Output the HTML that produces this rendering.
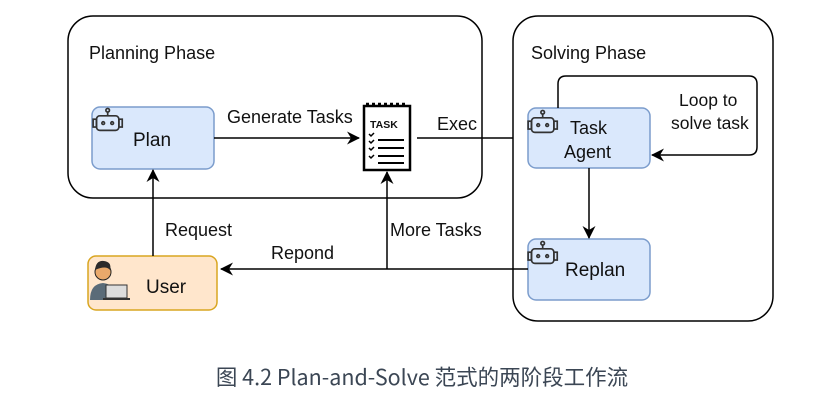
<!DOCTYPE html>
<html><head><meta charset="utf-8"><style>
body{margin:0;background:#fff;width:830px;height:403px;overflow:hidden}
text{font-family:"Liberation Sans","DejaVu Sans",sans-serif;fill:#111}
</style></head><body>
<svg width="830" height="403" viewBox="0 0 830 403" xmlns="http://www.w3.org/2000/svg">
<defs>
<marker id="a" markerWidth="13" markerHeight="13" refX="12" refY="6.5" orient="auto" markerUnits="userSpaceOnUse">
<path d="M0,0 L13,6.5 L0,13 L4,6.5 Z" fill="#000"/></marker>
<g id="bot" fill="none" stroke="#333" stroke-width="1.5">
<rect x="4" y="7" width="20" height="13" rx="3"/><line x1="14" y1="7" x2="14" y2="3"/><circle cx="14" cy="2" r="1.6"/>
<rect x="1" y="10" width="3" height="7"/><rect x="24" y="10" width="3" height="7"/>
<circle cx="10" cy="13.5" r="1.2"/><circle cx="18" cy="13.5" r="1.2"/></g>
</defs>
<rect x="68" y="16" width="414" height="182" rx="25" fill="none" stroke="#000" stroke-width="1.5"/>
<rect x="513" y="16" width="260" height="305" rx="25" fill="none" stroke="#000" stroke-width="1.5"/>
<text x="89" y="59" font-size="18">Planning Phase</text>
<text x="531" y="59" font-size="18">Solving Phase</text>

<rect x="92" y="107" width="122" height="62" rx="8" fill="#dae8fc" stroke="#7b9ccc" stroke-width="1.5"/>
<use href="#bot" transform="translate(92,108) scale(1.12)"/>
<text x="133" y="146" font-size="19">Plan</text>

<rect x="88" y="256" width="129" height="54" rx="8" fill="#ffe6cc" stroke="#d9a520" stroke-width="1.5"/>
<circle cx="103" cy="272" r="8" fill="#e9a96b" stroke="#222" stroke-width="1"/>
<path d="M95,270 Q96,260 104,261 Q112,262 110,270 Q106,265 95,270Z" fill="#2b2b2b"/>
<path d="M90,300 Q90,284 103,283 Q112,284 114,290 L114,300Z" fill="#5a6b78"/>
<rect x="106" y="285" width="21" height="13" fill="#ddd" stroke="#333"/>
<line x1="103" y1="299" x2="130" y2="299" stroke="#333" stroke-width="2"/>
<text x="146" y="293" font-size="19">User</text>

<g stroke="#000" fill="none">
<rect x="364" y="106" width="46" height="64" stroke-width="2.5"/>
<line x1="366" y1="104" x2="408" y2="104" stroke-width="2.5" stroke-dasharray="3,3"/>
<line x1="378" y1="140" x2="404" y2="140" stroke-width="2"/>
<line x1="378" y1="148" x2="404" y2="148" stroke-width="2"/>
<line x1="378" y1="156" x2="404" y2="156" stroke-width="2"/>
<line x1="378" y1="163" x2="404" y2="163" stroke-width="2"/>
<path d="M369,134 l2,2 l3,-3 M369,141 l2,2 l3,-3 M369,148 l2,2 l3,-3 M369,156 l2,2 l3,-3" stroke-width="1.5"/>
</g>
<text x="370" y="128" font-size="10.5" font-weight="bold">TASK</text>

<rect x="528" y="108" width="122" height="60" rx="8" fill="#dae8fc" stroke="#7b9ccc" stroke-width="1.5"/>
<use href="#bot" transform="translate(527,110) scale(1.12)"/>
<text x="570" y="134" font-size="18">Task</text>
<text x="564" y="158" font-size="18">Agent</text>
<rect x="528" y="239" width="122" height="61" rx="8" fill="#dae8fc" stroke="#7b9ccc" stroke-width="1.5"/>
<use href="#bot" transform="translate(527,241) scale(1.12)"/>
<text x="565" y="276" font-size="19">Replan</text>

<g stroke="#000" stroke-width="1.5" fill="none">
<line x1="214" y1="138" x2="359" y2="138" marker-end="url(#a)"/>
<line x1="417" y1="138" x2="513" y2="138"/>
<path d="M558,108 L558,84 Q558,76 566,76 L749,76 Q757,76 757,84 L757,147 Q757,155 749,155 L652,155" marker-end="url(#a)"/>
<line x1="589" y1="168" x2="589" y2="238" marker-end="url(#a)"/>
<line x1="528" y1="269" x2="221" y2="269" marker-end="url(#a)"/>
<line x1="387" y1="269" x2="387" y2="172" marker-end="url(#a)"/>
<line x1="153" y1="256" x2="153" y2="170" marker-end="url(#a)"/>
</g>
<text x="227" y="123" font-size="18">Generate Tasks</text>
<text x="437" y="130" font-size="18">Exec</text>
<text x="679" y="106" font-size="17.5">Loop to</text>
<text x="671" y="129" font-size="17.5">solve task</text>
<text x="165" y="236" font-size="18">Request</text>
<text x="271" y="259" font-size="18">Repond</text>
<text x="390" y="236" font-size="18">More Tasks</text>
<text x="422" y="385" font-size="21.5" text-anchor="middle" style="font-family:'Noto Sans CJK SC',sans-serif;fill:#3b4654">图 4.2 Plan-and-Solve 范式的两阶段工作流</text>
</svg>
</body></html>
